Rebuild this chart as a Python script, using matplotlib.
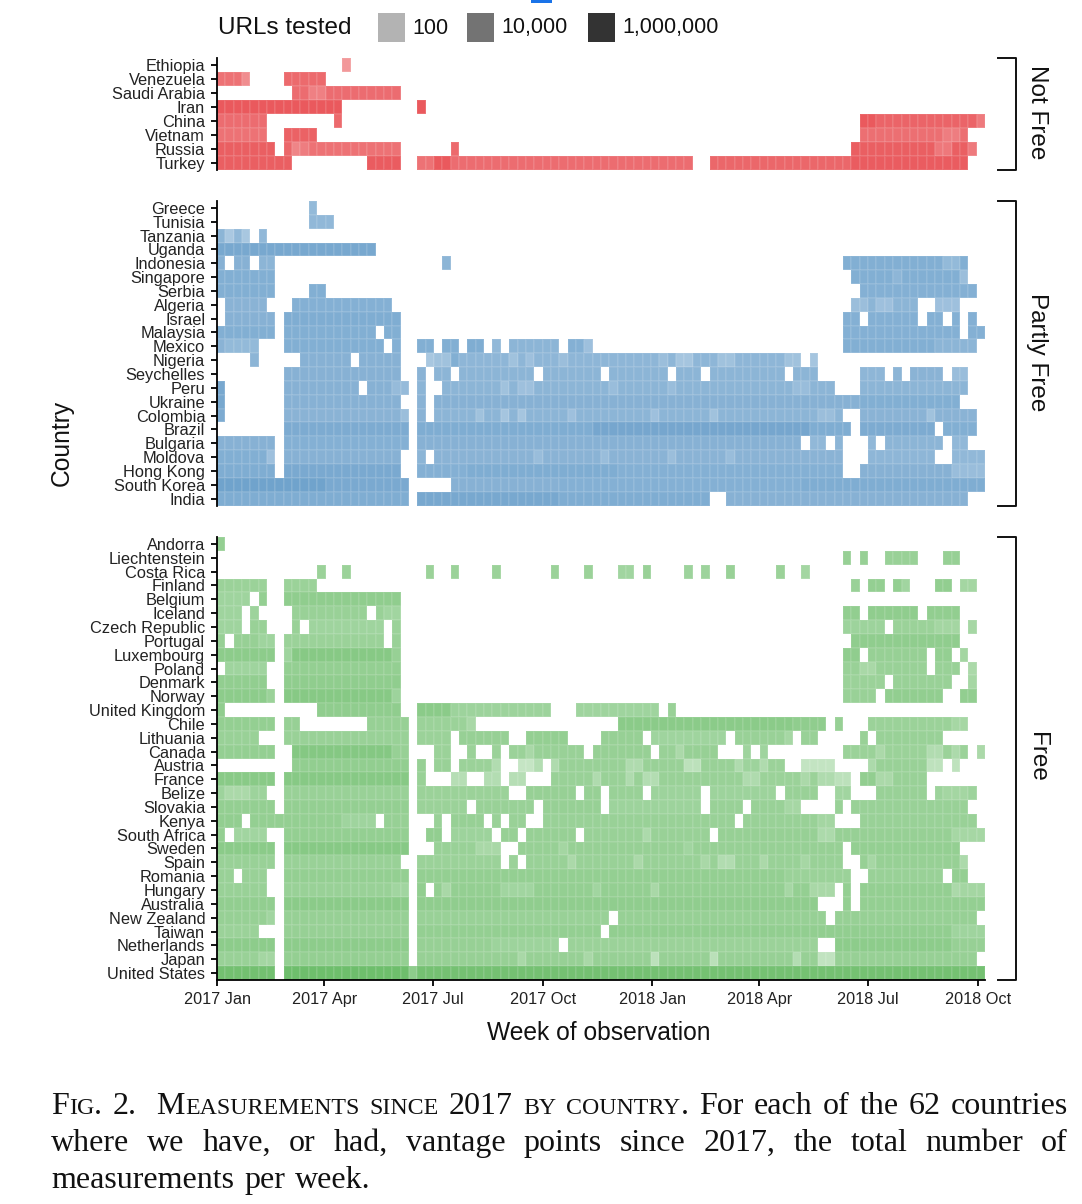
import numpy as np
import matplotlib
matplotlib.use("Agg")
import matplotlib.pyplot as plt
from matplotlib.colors import LinearSegmentedColormap, Normalize, to_rgb
from matplotlib.patches import Rectangle
from matplotlib.lines import Line2D

plt.rcParams['font.family'] = ['Liberation Sans', 'DejaVu Sans']
N_WEEKS = 92
N = None  # blank week override

# each row: (first week, last week, log10 URLs tested); later runs override earlier ones
not_free = {
 "Ethiopia": [(15,15,3.4)],
 "Venezuela": [(0,2,4.8),(3,3,3.8),(8,12,5.1)],
 "Saudi Arabia": [(9,21,5.0),(11,12,4.3)],
 "Iran": [(0,14,5.7),(24,24,5.7)],
 "China": [(0,5,5.0),(14,14,5.1),(77,91,5.3),(77,78,5.7),(91,91,4.5)],
 "Vietnam": [(0,5,4.8),(8,11,5.4),(77,89,4.9),(87,88,4.4)],
 "Russia": [(0,6,5.5),(8,21,4.8),(8,8,5.2),(9,9,4.1),(10,10,4.4),(28,28,5.1),(76,90,5.5),(86,87,4.6),(90,90,4.5)],
 "Turkey": [(0,8,5.5),(18,21,5.6),(24,56,5.0),(24,25,4.8),(26,27,5.7),(59,89,5.2),(76,89,5.6)],
}
partly_free = {
 "Greece": [(11,11,3.9)],
 "Tunisia": [(11,13,4.0)],
 "Tanzania": [(0,0,4.2),(1,1,3.0),(2,2,4.0),(3,3,3.1),(5,5,4.0)],
 "Uganda": [(0,18,5.0)],
 "Indonesia": [(0,0,4.4),(2,3,4.4),(5,6,4.2),(27,27,4.2),(75,89,4.6),(87,88,3.9)],
 "Singapore": [(0,6,4.6),(76,89,4.6),(81,81,4.1),(89,89,3.6)],
 "Serbia": [(0,6,4.6),(11,12,4.6),(77,90,4.5)],
 "Algeria": [(1,5,4.3),(9,20,4.5),(76,83,4.2),(76,77,3.6),(79,80,3.5),(86,88,3.5)],
 "Israel": [(1,6,4.4),(8,21,4.7),(75,90,4.5),(77,77,N),(84,84,N),(87,87,N),(89,89,N)],
 "Malaysia": [(0,6,4.6),(8,21,4.6),(19,19,N),(75,91,4.5),(89,89,N)],
 "Mexico": [(0,4,3.9),(0,0,4.3),(8,19,4.6),(21,21,4.5),(24,25,4.6),(27,28,4.6),(30,31,4.7),(33,33,4.0),(35,40,4.2),(42,44,4.5),(44,44,3.5),(75,90,4.6),(86,90,4.2)],
 "Nigeria": [(4,4,4.2),(10,21,4.4),(16,16,N),(25,25,3.1),(26,27,3.4),(28,69,4.1),(28,28,4.6),(35,35,3.4),(37,37,3.5),(41,41,3.6),(53,53,3.6),(55,56,3.2),(60,61,3.4),(68,69,3.4),(71,71,3.2)],
 "Seychelles": [(8,21,4.4),(24,24,4.3),(26,71,4.2),(28,28,N),(38,38,N),(46,46,N),(54,54,N),(58,58,N),(68,68,N),(77,79,4.1),(81,81,4.2),(83,86,4.3),(88,89,3.7)],
 "Peru": [(0,0,5.0),(8,20,4.4),(17,17,N),(21,22,3.8),(24,24,4.2),(27,73,4.2),(34,34,3.4),(36,37,3.5),(47,47,3.7),(54,54,3.7),(69,70,3.7),(77,89,4.2)],
 "Ukraine": [(0,0,5.0),(8,21,4.4),(24,24,4.3),(26,88,4.4),(77,88,4.6)],
 "Colombia": [(0,0,4.8),(8,22,4.3),(22,22,3.6),(24,24,4.3),(26,74,4.2),(31,31,3.4),(34,34,3.2),(36,36,3.2),(42,42,3.5),(52,52,3.5),(59,59,3.4),(72,73,3.6),(77,90,4.3),(85,85,3.4)],
 "Brazil": [(8,22,4.8),(24,75,4.7),(45,70,5.1),(77,85,4.8),(87,90,4.6)],
 "Bulgaria": [(0,6,4.4),(8,22,4.5),(24,69,4.4),(71,72,4.0),(74,74,4.2),(78,78,4.0),(80,86,4.2),(88,89,4.0)],
 "Moldova": [(0,5,4.6),(6,6,3.5),(8,21,4.4),(24,24,4.2),(26,74,4.3),(38,38,3.7),(46,46,3.7),(54,54,3.6),(61,61,3.7),(78,85,4.1),(88,91,4.0)],
 "Hong Kong": [(0,6,4.7),(8,21,4.9),(24,74,4.5),(30,47,4.7),(77,91,4.4),(88,91,3.7)],
 "South Korea": [(0,22,4.9),(0,12,5.3),(28,91,4.5),(28,40,4.4),(70,91,4.7)],
 "India": [(0,22,4.7),(24,58,4.7),(24,40,5.0),(61,89,4.4)],
}
free = {
 "Andorra": [(0,0,4.4)],
 "Liechtenstein": [(75,75,4.3),(77,77,4.3),(80,83,4.2),(87,88,4.3)],
 "Costa Rica": [(12,12,4.1),(15,15,4.1),(25,25,4.1),(28,28,4.1),(33,33,4.1),(40,40,4.1),(44,44,4.1),(48,49,3.8),(51,51,4.2),(56,56,4.0),(58,58,4.0),(61,61,4.2),(67,67,4.1),(70,70,3.7)],
 "Finland": [(0,5,4.1),(8,11,4.1),(76,76,4.2),(78,79,4.4),(81,81,4.4),(82,82,3.8),(86,87,4.5),(89,90,3.7)],
 "Belgium": [(0,3,3.9),(5,5,4.4),(8,21,4.6)],
 "Iceland": [(0,2,3.9),(4,4,4.0),(9,21,4.2),(18,18,N),(20,21,3.8),(75,76,4.5),(78,83,4.6),(85,88,4.5)],
 "Czech Republic": [(0,2,3.9),(4,5,4.2),(9,9,4.2),(11,19,3.9),(21,21,4.1),(75,79,4.0),(81,88,4.1),(86,88,3.7),(90,90,3.6)],
 "Portugal": [(0,0,4.3),(2,6,4.3),(5,6,3.9),(8,19,4.1),(21,21,4.2),(76,88,4.6)],
 "Luxembourg": [(0,6,4.7),(8,8,3.9),(9,20,5.0),(21,21,4.3),(75,76,4.6),(78,84,4.3),(86,87,4.4),(89,89,3.7)],
 "Poland": [(1,5,3.9),(8,21,4.4),(75,88,4.2),(77,78,3.5),(85,85,N),(90,90,3.4)],
 "Denmark": [(0,5,4.5),(8,21,4.6),(75,79,4.1),(81,87,4.2),(90,90,3.6)],
 "Norway": [(0,6,4.7),(6,6,4.1),(8,20,5.0),(21,21,4.0),(75,78,4.2),(80,86,4.5),(89,90,4.5)],
 "United Kingdom": [(0,0,4.6),(12,21,4.6),(24,39,4.0),(24,27,4.8),(43,52,3.9),(54,54,4.2)],
 "Chile": [(0,6,4.4),(8,9,4.3),(18,22,4.3),(24,30,4.1),(30,30,3.5),(48,72,4.6),(48,68,4.8),(74,74,4.3),(78,89,4.1),(88,89,3.6)],
 "Lithuania": [(0,4,4.2),(8,22,4.2),(24,27,4.1),(29,34,4.3),(37,41,4.4),(46,50,4.3),(52,60,3.9),(62,68,4.2),(68,68,3.6),(70,71,4.2),(77,77,4.2),(79,86,4.2)],
 "Canada": [(0,6,4.4),(9,20,5.1),(21,22,4.3),(26,27,4.1),(30,30,4.1),(33,33,4.1),(35,36,4.1),(37,43,4.2),(37,37,3.5),(45,51,4.3),(53,55,4.2),(55,55,3.4),(56,59,4.3),(63,63,3.9),(65,65,3.9),(75,78,4.1),(79,79,3.4),(80,89,4.1),(85,86,3.1),(88,88,3.3),(91,91,3.4)],
 "Austria": [(9,22,4.5),(24,24,4.3),(26,27,4.2),(29,32,4.1),(33,33,3.1),(36,38,2.2),(38,38,3.0),(40,40,3.2),(41,47,4.2),(48,48,4.2),(49,49,3.2),(50,50,3.2),(51,55,4.2),(56,57,2.6),(58,61,4.2),(62,62,3.2),(63,64,4.0),(65,65,3.2),(66,67,4.1),(70,73,2.3),(78,78,3.3),(79,84,4.2),(85,86,2.5),(88,88,2.5)],
 "France": [(0,6,4.9),(8,22,5.0),(24,24,4.2),(28,29,2.9),(32,33,3.0),(35,36,2.9),(40,62,4.2),(45,45,3.2),(49,49,3.2),(51,52,3.0),(63,64,3.2),(65,71,4.1),(70,70,3.4),(72,73,3.2),(74,75,2.6),(77,78,4.5),(79,80,3.4),(81,84,4.2)],
 "Belize": [(0,5,4.0),(1,3,3.4),(8,22,4.2),(24,34,4.1),(37,42,4.3),(44,45,4.3),(47,50,4.2),(52,57,4.0),(59,66,4.0),(68,71,4.2),(74,75,3.8),(79,84,4.2),(86,90,4.0),(87,89,3.7)],
 "Slovakia": [(0,6,4.4),(8,22,4.4),(24,29,4.1),(31,37,4.2),(39,45,4.3),(47,57,4.0),(59,62,4.2),(64,69,4.2),(68,69,3.6),(74,74,4.2),(76,89,4.2)],
 "Kenya": [(0,2,4.5),(4,18,4.4),(15,18,3.9),(20,22,4.3),(26,26,4.2),(28,31,4.3),(33,33,4.2),(35,36,4.2),(39,61,4.2),(63,73,4.2),(72,73,3.7),(77,90,4.2)],
 "South Africa": [(0,0,4.4),(2,5,3.8),(8,22,4.4),(25,26,4.5),(28,32,4.0),(34,35,4.3),(37,42,4.3),(44,58,4.2),(51,51,3.3),(60,91,4.3),(72,73,3.3),(88,91,3.6)],
 "Sweden": [(0,6,4.8),(8,22,5.0),(26,33,4.2),(31,33,3.5),(36,74,4.3),(41,41,3.7),(56,56,3.8),(76,88,4.4)],
 "Spain": [(0,6,4.2),(8,21,4.2),(24,33,4.1),(35,35,4.1),(37,74,4.2),(42,42,3.4),(50,50,3.4),(58,58,3.5),(60,61,3.1),(65,65,3.4),(70,70,3.6),(77,89,4.3),(78,78,3.6),(89,89,3.3)],
 "Romania": [(0,1,4.2),(3,5,4.2),(8,22,4.4),(24,75,4.4),(68,75,4.1),(78,86,4.2),(88,89,4.4)],
 "Hungary": [(0,5,4.2),(8,22,4.2),(21,22,3.8),(24,24,4.5),(26,73,4.4),(27,27,3.5),(34,37,3.8),(45,45,3.8),(52,52,3.5),(68,68,3.6),(71,73,3.5),(75,75,4.4),(77,91,4.4),(88,88,3.4),(89,91,3.7)],
 "Australia": [(0,6,4.5),(8,22,4.8),(24,71,4.6),(75,75,4.4),(77,91,4.4)],
 "New Zealand": [(0,6,4.3),(6,6,3.8),(8,22,4.3),(24,46,4.2),(48,72,4.3),(74,90,4.3)],
 "Taiwan": [(0,4,4.1),(8,22,4.3),(24,45,4.4),(47,91,4.5),(88,91,3.9)],
 "Netherlands": [(0,6,4.7),(8,22,4.7),(24,40,4.3),(33,40,4.0),(42,71,4.1),(74,91,4.7),(88,91,4.3)],
 "Japan": [(0,6,4.2),(5,6,3.7),(8,22,4.4),(24,90,4.3),(36,36,3.5),(44,44,3.5),(52,52,2.6),(59,59,2.7),(69,69,3.0),(72,73,2.4)],
 "United States": [(0,6,5.9),(8,91,5.8),(8,22,6.1),(23,23,4.7)],
}

legend_title = "URLs tested"
legend_values = [100, 10000, 1000000]
legend_labels = ["100", "10,000", "1,000,000"]
tick_weeks = [0, 12.86, 25.86, 39.0, 52.14, 64.97, 77.97, 91.14]
tick_labels = ["2017 Jan", "2017 Apr", "2017 Jul", "2017 Oct", "2018 Jan", "2018 Apr", "2018 Jul", "2018 Oct"]
panel_names = ["Not Free", "Partly Free", "Free"]
panel_colors = ["#e3262b", "#377eb8", "#4daf4a"]
panels = [not_free, partly_free, free]

W, H = 1082, 1204
fig = plt.figure(figsize=(W/100, H/100), dpi=100)
norm = Normalize(0, 7.6)

def cmap_for(c):
    c = np.array(to_rgb(c))
    return LinearSegmentedColormap.from_list("a", [1-0.05*(1-c), c])

def px_axes(x0, y0, x1, y1):
    return fig.add_axes([x0/W, 1-y1/H, (x1-x0)/W, (y1-y0)/H])

X0, X1 = 217, 985
boxes = [(58, 169.5), (201, 505.5), (537, 980)]
for i, (rows, color, name, (ytop, ybot)) in enumerate(zip(panels, panel_colors, panel_names, boxes)):
    names = list(rows)
    M = np.full((len(names), N_WEEKS), np.nan)
    for r, country in enumerate(names):
        for a, b, v in rows[country]:
            M[r, a:b+1] = np.nan if v is None else v
    ax = px_axes(X0, ytop, X1, ybot)
    ax.pcolormesh(np.arange(N_WEEKS+1), np.arange(len(names)+1), np.ma.masked_invalid(M),
                  cmap=cmap_for(color), norm=norm, edgecolors=(1,1,1,0.08), linewidth=0.3)
    ax.set_xlim(0, N_WEEKS)
    ax.set_ylim(len(names), 0)
    ax.set_yticks(np.arange(len(names))+0.5, names, fontsize=11.8, color="#222222")
    ax.tick_params(axis='y', length=4, width=1.3, pad=4.5)
    for lab in ax.get_yticklabels():
        lab.set_y(lab.get_position()[1])
    for s in ['top', 'right', 'bottom']:
        ax.spines[s].set_visible(False)
    ax.spines['left'].set_linewidth(1.3)
    if i == 2:
        ax.spines['bottom'].set_visible(True)
        ax.spines['bottom'].set_linewidth(1.3)
        ax.set_xticks(tick_weeks, tick_labels, fontsize=11.7, color="#222222")
        ax.tick_params(axis='x', length=4, width=1.3, pad=4.5)
    else:
        ax.set_xticks([])
    # bracket and panel title
    ly = [ytop, ytop, ybot, ybot]
    lx = [998, 1016, 1016, 998]
    fig.add_artist(Line2D([v/W for v in lx], [1-v/H for v in ly], color="#111111", lw=1.4))
    fig.text(1037/W, 1-((ytop+ybot)/2-1.5)/H, name, rotation=-90, ha='center', va='center', fontsize=17.5, color="#111111")

fig.text(62/W, 1-443/H, "Country", rotation=90, ha='center', va='center', fontsize=17.7, color="#111111")
fig.text(599/W, 1-1033/H, "Week of observation", ha='center', va='center', fontsize=17.7, color="#111111")

# legend
fig.text(218/W, 1-28/H, legend_title, ha='left', va='center', fontsize=17.5, color="#111111")
for v, lab, x in zip(legend_values, legend_labels, [378, 467, 588]):
    a = 0.3 + 0.125*(np.log10(v)-2)
    fig.add_artist(Rectangle((x/W, 1-42/H), 27/W, 29/H, transform=fig.transFigure, fc=str(1-a), ec='none'))
    fig.text((x+34)/W, 1-28/H, lab, ha='left', va='center', fontsize=15.5, color="#111111")

# artefact at the top of the screenshot
fig.add_artist(Rectangle((531/W, 1-3/H), 21/W, 3/H, transform=fig.transFigure, fc="#1a73e8", ec='none'))

# caption (simulated small caps, justified)
BIG, SMALL = 23, 17.2
line1 = [[("F", BIG), ("IG", SMALL), (".", BIG)], [("2.", BIG)], [("", BIG)], [("M", BIG), ("EASUREMENTS", SMALL)], [("SINCE", SMALL)],
         [("2017", BIG)], [("BY", SMALL)], [("COUNTRY", SMALL), (".", BIG)],
         [("For", BIG)], [("each", BIG)], [("of", BIG)], [("the", BIG)], [("62", BIG)], [("countries", BIG)]]
line2 = [[(w, BIG)] for w in "where we have, or had, vantage points since 2017, the total number of".split()]
line3 = [[(w, BIG)] for w in "measurements per week.".split()]
rend = fig.canvas.get_renderer()
def draw_line(words, y, x0=51, x1=1068, justify=True):
    groups = []
    for w in words:
        arts = []
        for s, size in w:
            t = fig.text(0, 1-y/H, s, family='Liberation Serif', fontsize=size, ha='left', va='baseline', color="#111111")
            arts.append((t, t.get_window_extent(rend).width if s else 0))
        groups.append(arts)
    widths = [sum(a[1] for a in g) for g in groups]
    gap = (x1-x0-sum(widths))/(len(groups)-1) if justify else 10
    x = x0
    for g, wd in zip(groups, widths):
        for t, tw in g:
            t.set_x(x/W)
            x += tw
        x += gap
draw_line(line1, 1114)
draw_line(line2, 1151)
draw_line(line3, 1188, justify=False)

fig.savefig("out.png", dpi=100)
